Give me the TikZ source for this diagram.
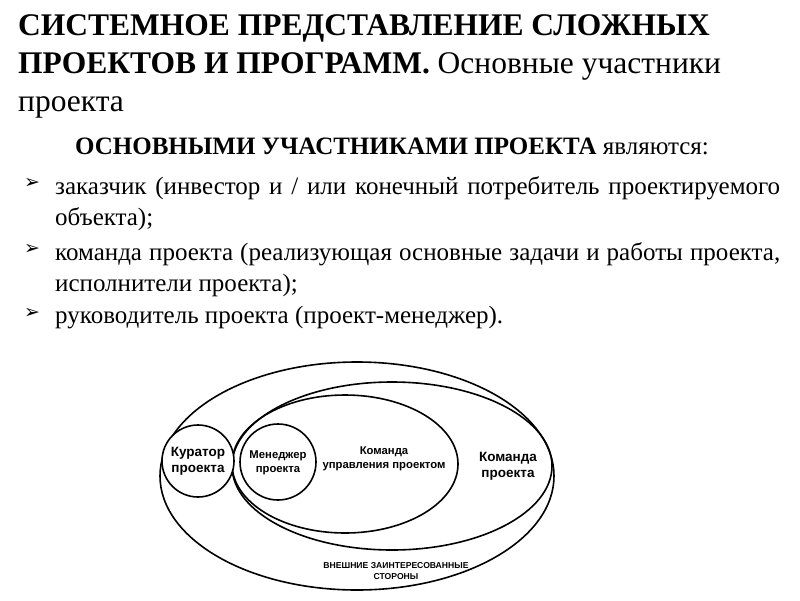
\documentclass[tikz,border=0pt]{standalone}
\usepackage{fontspec}
\setmainfont{Liberation Serif}
\newfontfamily\dgfont{Liberation Sans}
\newfontfamily\dvfont{DejaVu Sans}
\begin{document}
\begin{tikzpicture}[x=1pt,y=-1pt,
  ring/.style={draw=black,line width=1.6pt},
  lbl/.style={font=\dgfont\bfseries\fontsize{13.5}{16}\selectfont,align=center},
  item/.style={anchor=north west,text width=725pt,align=justify,inner sep=0pt,font=\fontsize{25}{31}\selectfont},
  bul/.style={anchor=north west,inner sep=0pt,font=\dvfont\fontsize{19}{22}\selectfont}]
\useasboundingbox (0,0) rectangle (800,600);
\node[anchor=base west,inner sep=0pt,font=\bfseries\fontsize{31.5}{36}\selectfont] (t1) at (18,35) {СИСТЕМНОЕ ПРЕДСТАВЛЕНИЕ СЛОЖНЫХ};
\node[anchor=base west,inner sep=0pt,font=\fontsize{31.5}{36}\selectfont] (t2) at (18,73) {\textbf{ПРОЕКТОВ И ПРОГРАММ.} Основные участники};
\node[anchor=base west,inner sep=0pt,font=\fontsize{31.5}{36}\selectfont] (t3) at (18,111) {проекта};
\node[anchor=base,inner sep=0pt,font=\fontsize{25}{28}\selectfont] (sub) at (392,154) {\textbf{ОСНОВНЫМИ УЧАСТНИКАМИ ПРОЕКТА} являются:};
\node[bul] (b1) at (24,178) {➢};
\node[item] (i1) at (55,176) {заказчик (инвестор и / или конечный потребитель проектируемого объекта);};
\node[bul] (b2) at (24,244) {➢};
\node[item] (i2) at (55,242) {команда проекта (реализующая основные задачи и работы проекта, исполнители проекта);};
\node[bul] (b3) at (24,308) {➢};
\node[item] (i3) at (55,306) {руководитель проекта (проект-менеджер).};
\draw[ring] (357,476) ellipse [x radius=197,y radius=114];
\draw[ring] (392,466) ellipse [x radius=160,y radius=84];
\draw[ring] (345,464) ellipse [x radius=113,y radius=69];
\draw[ring,fill=white] (198,461) circle [radius=36];
\draw[ring,fill=white] (278,462) circle [radius=38];
\node[lbl] (ku) at (198,461) {Куратор\\проекта};
\node[lbl,font=\dgfont\bfseries\fontsize{11.3}{14.5}\selectfont] (me) at (278,463) {Менеджер\\проекта};
\node[lbl,font=\dgfont\bfseries\fontsize{11.3}{14.5}\selectfont] (ku2) at (384,459) {Команда\\управления проектом};
\node[lbl] (kp) at (508,466) {Команда\\проекта};
\node[lbl,font=\dgfont\bfseries\fontsize{8.6}{10.5}\selectfont] (vn) at (396,571) {ВНЕШНИЕ ЗАИНТЕРЕСОВАННЫЕ\\СТОРОНЫ};
\end{tikzpicture}
\end{document}
